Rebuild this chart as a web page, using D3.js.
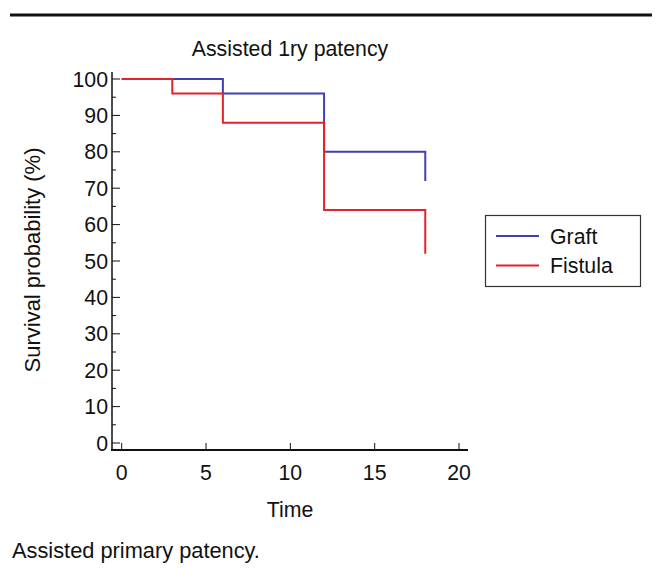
<!DOCTYPE html>
<html><head><meta charset="utf-8">
<script src="https://cdn.jsdelivr.net/npm/d3@7"></script>
<style>body{margin:0;background:#fff;} svg{display:block;font-family:"Liberation Sans",Arial,sans-serif;}</style>
</head><body>
<script>
const seriesNames = ["Graft", "Fistula"];
const seriesColors = ["#4040b0", "#e3222a"];
const graftTimes = [0, 6, 12, 18];
const graftValues = [100, 96, 80, 72];
const fistulaTimes = [0, 3, 6, 12, 18];
const fistulaValues = [100, 96, 88, 64, 52];
const xTicks = [0, 5, 10, 15, 20];
const yTicks = [0, 10, 20, 30, 40, 50, 60, 70, 80, 90, 100];

const W = 656, H = 568;
const FS = 21.3;
const svg = d3.select("body").append("svg").attr("width", W).attr("height", H);

// top rule
svg.append("rect").attr("x", 10).attr("y", 13.5).attr("width", 642).attr("height", 3).attr("fill", "#111");

const x = d3.scaleLinear().domain([0, 20]).range([121.7, 459]);
const y = d3.scaleLinear().domain([0, 100]).range([443, 79]);
const axisLeftX = 112, axisBottomY = 450;

// axes lines
svg.append("line").attr("x1", axisLeftX).attr("x2", axisLeftX).attr("y1", 72).attr("y2", axisBottomY + 1)
  .attr("stroke", "#111").attr("stroke-width", 1.5);
svg.append("line").attr("x1", axisLeftX - 1).attr("x2", 468).attr("y1", axisBottomY).attr("y2", axisBottomY)
  .attr("stroke", "#111").attr("stroke-width", 2);

// y ticks (inward), major + minor
const gy = svg.append("g");
yTicks.forEach(v => {
  gy.append("line").attr("x1", axisLeftX).attr("x2", axisLeftX + 8).attr("y1", y(v)).attr("y2", y(v)).attr("stroke", "#111").attr("stroke-width", 1);
  gy.append("text").attr("x", axisLeftX - 4).attr("y", y(v)).attr("dy", "0.36em").attr("text-anchor", "end")
    .attr("font-size", FS).attr("fill", "#111").text(v);
});
d3.range(5, 100, 10).forEach(v => {
  gy.append("line").attr("x1", axisLeftX).attr("x2", axisLeftX + 4).attr("y1", y(v)).attr("y2", y(v)).attr("stroke", "#111").attr("stroke-width", 1);
});

// x ticks (inward)
const gx = svg.append("g");
xTicks.forEach(v => {
  gx.append("line").attr("x1", x(v)).attr("x2", x(v)).attr("y1", axisBottomY).attr("y2", v === 0 ? y(0) : axisBottomY - 7).attr("stroke", "#111").attr("stroke-width", 1);
  gx.append("text").attr("x", x(v)).attr("y", 480).attr("text-anchor", "middle")
    .attr("font-size", FS).attr("fill", "#111").text(v);
});

// titles
svg.append("text").attr("x", 290).attr("y", 56).attr("text-anchor", "middle").attr("font-size", FS).attr("fill", "#111").text("Assisted 1ry patency");
svg.append("text").attr("x", 290).attr("y", 517).attr("text-anchor", "middle").attr("font-size", FS).attr("fill", "#111").text("Time");
svg.append("text").attr("transform", "translate(40,260) rotate(-90)").attr("text-anchor", "middle").attr("font-size", 22).attr("fill", "#111").text("Survival probability (%)");
svg.append("text").attr("x", 12).attr("y", 558).attr("font-size", 21.8).attr("fill", "#111").text("Assisted primary patency.");

// step curves
function stepPath(times, vals) {
  const pts = times.map((t, i) => [t, vals[i]]);
  return d3.line().x(d => x(d[0])).y(d => y(d[1])).curve(d3.curveStepAfter)(pts);
}
const series = [[graftTimes, graftValues], [fistulaTimes, fistulaValues]];
series.forEach((s, i) => {
  svg.append("path").attr("d", stepPath(s[0], s[1])).attr("fill", "none")
    .attr("stroke", seriesColors[i]).attr("stroke-width", 2);
});

// legend
const lg = svg.append("g");
lg.append("rect").attr("x", 485.5).attr("y", 215.5).attr("width", 155).attr("height", 71).attr("fill", "#fff").attr("stroke", "#333").attr("stroke-width", 1.2);
seriesNames.forEach((n, i) => {
  const yy = 236 + i * 29.5;
  lg.append("line").attr("x1", 496).attr("x2", 539).attr("y1", yy).attr("y2", yy).attr("stroke", seriesColors[i]).attr("stroke-width", 2);
  lg.append("text").attr("x", 550).attr("y", yy).attr("dy", "0.36em").attr("font-size", FS).attr("fill", "#111").text(n);
});
</script>
</body></html>
